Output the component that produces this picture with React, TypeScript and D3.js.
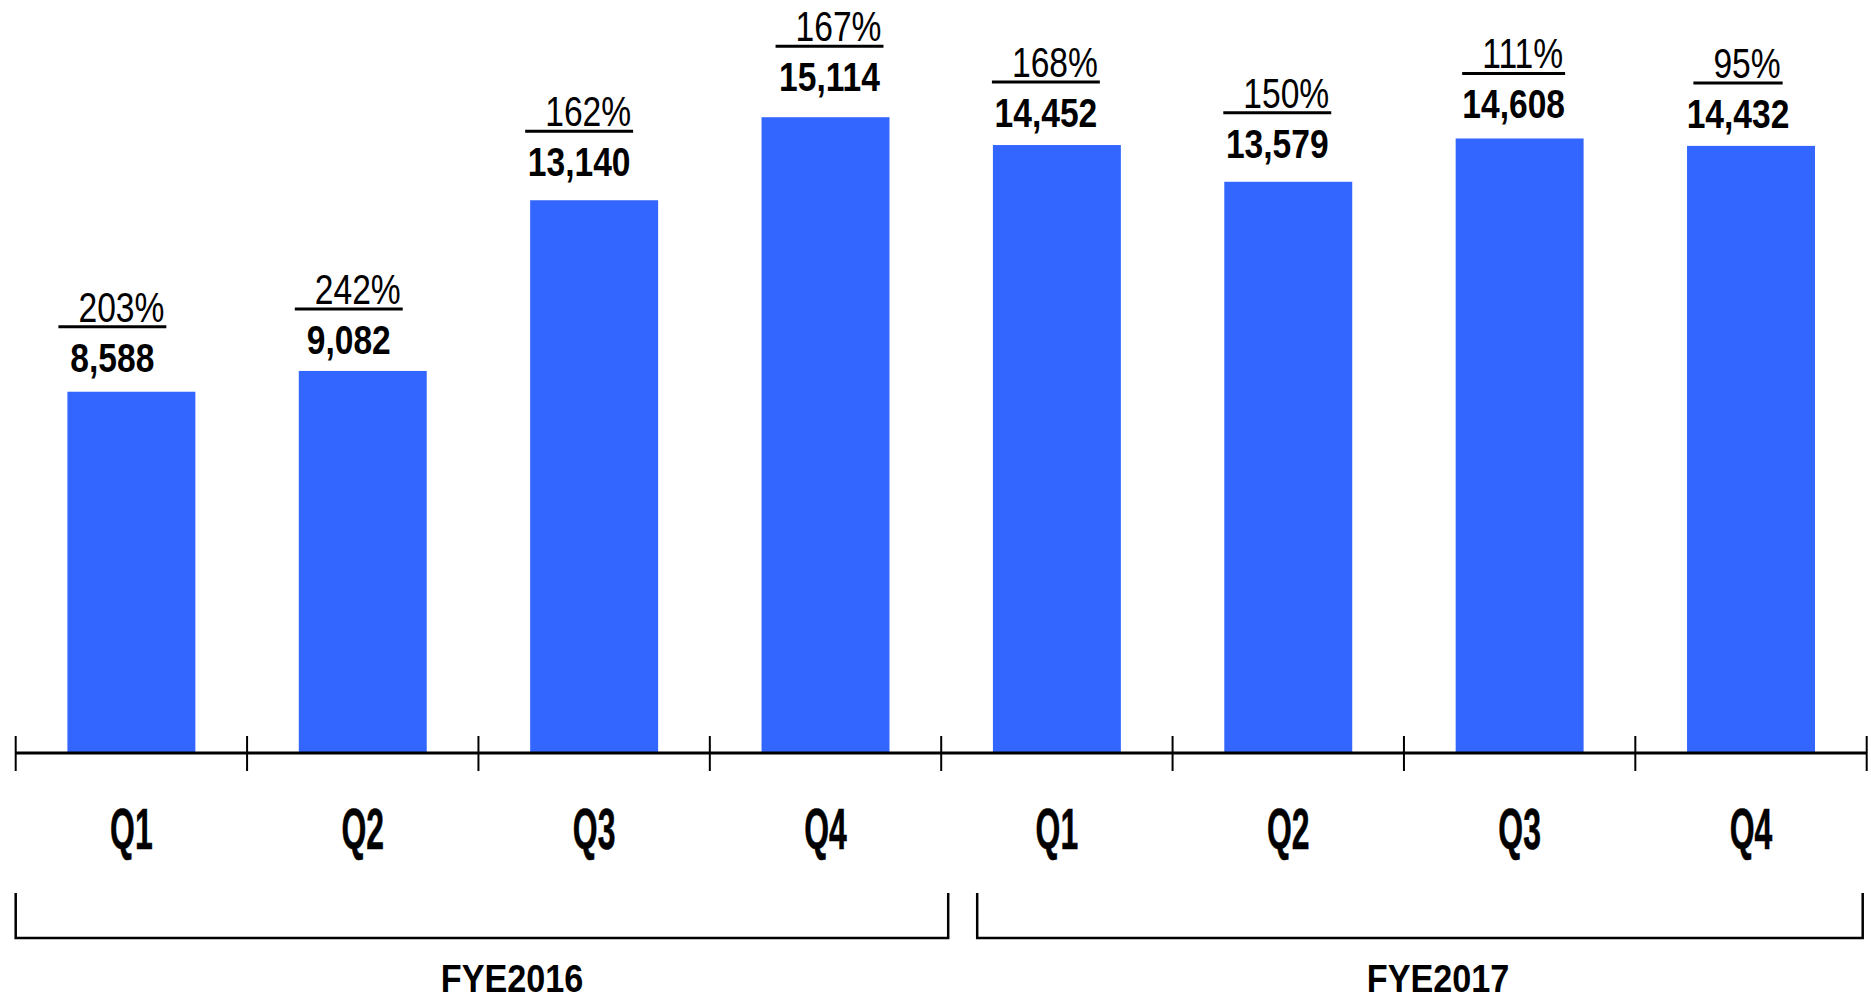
import React, { useEffect, useRef } from "react";
import * as d3 from "d3";

// ---- data ----
const quarters = ["Q1", "Q2", "Q3", "Q4", "Q1", "Q2", "Q3", "Q4"];
const fiscalYears = ["FYE2016", "FYE2017"];
const values = [8588, 9082, 13140, 15114, 14452, 13579, 14608, 14432];
const growth = ["203%", "242%", "162%", "167%", "168%", "150%", "111%", "95%"];

// ---- layout ----
const W = 1871;
const H = 1000;
const AXIS_Y = 753;
const X0 = 15.7;
const X1 = 1866.7;
const Y_MAX = 17900;
const BAR_COLOR = "#3366FF";
const FONT = "'Liberation Sans', Arial, Helvetica, sans-serif";
// horizontal nudges of the value labels relative to bar centres
const labelDx = [-19, -14, -15, 4, -11, -11, -6, -13];
const labelGap = [20, 17, 24, 26, 18, 24, 20, 18];

export default function App() {
  const ref = useRef<SVGSVGElement>(null);

  useEffect(() => {
    document.body.style.margin = "0";
    const svg = d3.select(ref.current);
    svg.selectAll("*").remove();

    const idx = values.map((_, i) => String(i));
    const x = d3
      .scaleBand<string>()
      .domain(idx)
      .range([X0, X1])
      .paddingInner(0.447)
      .paddingOuter(0.2235);
    const y = d3.scaleLinear().domain([0, Y_MAX]).range([AXIS_Y, 0]);
    const step = x.step();
    const boundary = (i: number) => X0 + i * step;

    // bars
    svg
      .append("g")
      .selectAll("rect")
      .data(values)
      .join("rect")
      .attr("x", (_, i) => x(String(i))!)
      .attr("y", (d) => y(d))
      .attr("width", x.bandwidth())
      .attr("height", (d) => y(0) - y(d))
      .attr("fill", BAR_COLOR);

    // axis line and ticks
    const ax = svg.append("g").attr("stroke", "#000");
    ax.append("line")
      .attr("x1", X0)
      .attr("x2", X1)
      .attr("y1", y(0))
      .attr("y2", y(0))
      .attr("stroke-width", 2.8);
    ax.selectAll("line.tick")
      .data(d3.range(values.length + 1))
      .join("line")
      .attr("class", "tick")
      .attr("x1", (i) => boundary(i))
      .attr("x2", (i) => boundary(i))
      .attr("y1", y(0) - 17)
      .attr("y2", y(0) + 18)
      .attr("stroke-width", 2);

    // quarter labels
    svg
      .append("g")
      .selectAll("text")
      .data(quarters)
      .join("text")
      .attr(
        "transform",
        (_, i) => `translate(${x(String(i))! + x.bandwidth() / 2},849) scale(0.55,1)`
      )
      .attr("text-anchor", "middle")
      .attr("font-family", FONT)
      .attr("font-weight", "bold")
      .attr("font-size", 58)
      .attr("stroke", "#000")
      .attr("stroke-width", 0.6)
      .text((d) => d);

    // fiscal-year brackets
    const brackets = [
      { a: boundary(0), b: boundary(4) + 7, c: 512 },
      { a: boundary(4) + 36, b: boundary(8) - 4, c: 1438 },
    ];
    const bg = svg.append("g");
    brackets.forEach((br, k) => {
      bg.append("path")
        .attr("d", `M${br.a},893 V938 H${br.b} V893`)
        .attr("fill", "none")
        .attr("stroke", "#000")
        .attr("stroke-width", 2.5);
      bg.append("text")
        .attr("transform", `translate(${br.c},992) scale(0.9,1)`)
        .attr("text-anchor", "middle")
        .attr("font-family", FONT)
        .attr("font-weight", "bold")
        .attr("font-size", 38)
        .text(fiscalYears[k]);
    });

    // value labels
    const lg = svg.append("g");
    values.forEach((v, i) => {
      const cx = x(String(i))! + x.bandwidth() / 2 + labelDx[i];
      const base = y(v) - labelGap[i];
      lg.append("text")
        .attr("transform", `translate(${cx},${base}) scale(0.84,1)`)
        .attr("text-anchor", "middle")
        .attr("font-family", FONT)
        .attr("font-weight", "bold")
        .attr("font-size", 40)
        .text(d3.format(",")(v));

      const uy = base - 45;
      const pt = lg
        .append("text")
        .attr("font-family", FONT)
        .attr("font-size", 42)
        .attr("text-anchor", "end")
        .text(growth[i]);
      const sx = 0.8;
      const tw = (pt.node() as SVGTextElement).getComputedTextLength() * sx;
      const w = tw + 22;
      pt.attr("transform", `translate(${cx + w / 2 - 2},${uy - 5}) scale(${sx},1)`);
      lg.append("line")
        .attr("x1", cx - w / 2)
        .attr("x2", cx + w / 2)
        .attr("y1", uy)
        .attr("y2", uy)
        .attr("stroke", "#000")
        .attr("stroke-width", 3);
    });
  }, []);

  return (
    <svg
      ref={ref}
      width={W}
      height={H}
      style={{ position: "absolute", left: 0, top: 0, display: "block", background: "#fff" }}
    />
  );
}
